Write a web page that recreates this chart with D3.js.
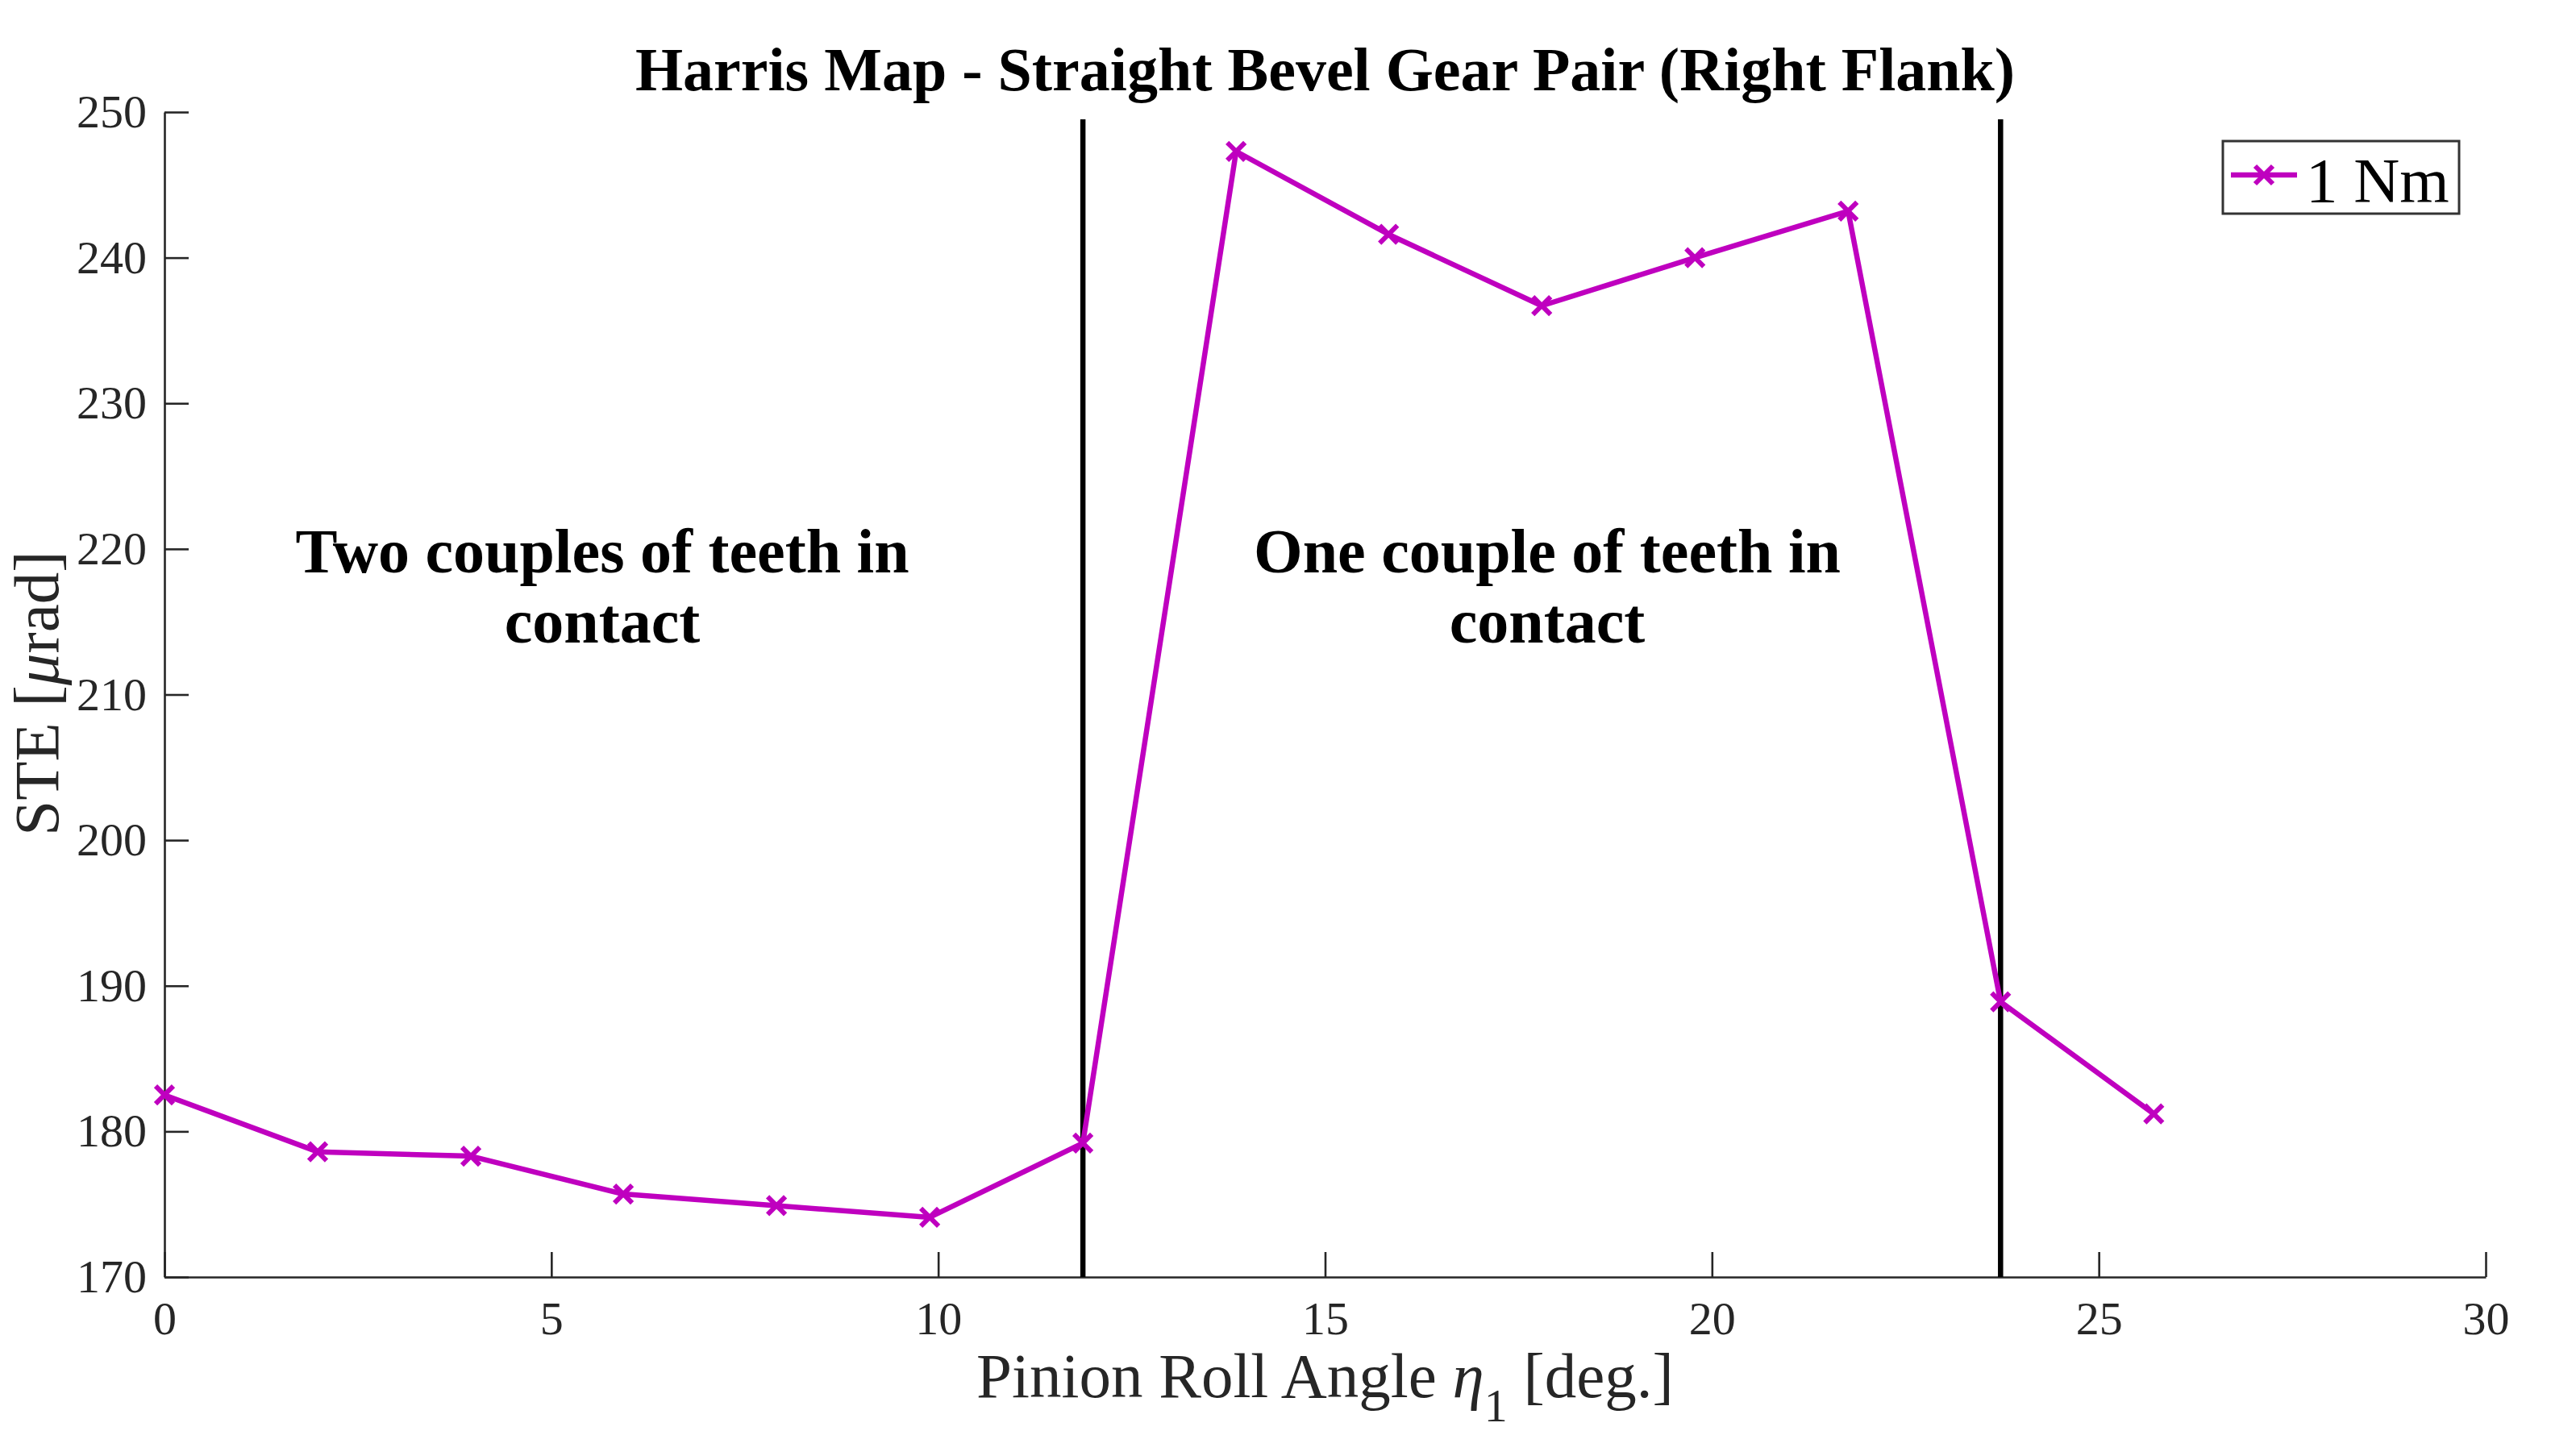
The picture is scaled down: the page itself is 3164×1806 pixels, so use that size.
<!DOCTYPE html>
<html>
<head>
<meta charset="utf-8">
<script src="https://cdn.jsdelivr.net/npm/d3@7"></script>
<style>
  body { margin: 0; background: #fff; }
  #plot { width: 3164px; height: 1806px; }
  text { font-family: "Liberation Serif", "DejaVu Serif", serif; }
</style>
</head>
<body>
<div id="plot"></div>
<script>
// data
const rollAngle = [0, 1.98, 3.96, 5.93, 7.91, 9.89, 11.87, 13.85, 15.82, 17.80, 19.78, 21.76, 23.73, 25.71];
const ste = [182.5, 178.6, 178.3, 175.7, 174.9, 174.1, 179.2, 247.3, 241.6, 236.7, 240.0, 243.2, 188.9, 181.2];
const contactLimits = [11.87, 23.73];
const xTicks = [0, 5, 10, 15, 20, 25, 30];
const yTicks = [170, 180, 190, 200, 210, 220, 230, 240, 250];
const seriesName = "1 Nm";

const magenta = "#bf00bf";
const axisColor = "#262626";

// set the dimensions and margins of the graph
const W = 3164, H = 1806;
const margin = {top: 139, right: 81, bottom: 222, left: 204},
    width = W - margin.left - margin.right,
    height = H - margin.top - margin.bottom;

const svgRoot = d3.select("#plot")
    .append("svg")
    .attr("width", W)
    .attr("height", H);

const svg = svgRoot.append("g")
    .attr("transform", "translate(" + margin.left + "," + margin.top + ")");

// scales
let x = d3.scaleLinear().domain([0, 30]).range([0, width]);
let y = d3.scaleLinear().domain([170, 250]).range([height, 0]);

// x axis, ticks pointing inward
let xAxis = svg.append("g")
    .attr("transform", "translate(0," + height + ")")
    .call(d3.axisBottom(x).tickValues(xTicks).tickSizeInner(-31).tickSizeOuter(0).tickPadding(30));

// y axis
let yAxis = svg.append("g")
    .call(d3.axisLeft(y).tickValues(yTicks).tickSizeInner(-30).tickSizeOuter(0).tickPadding(22));

[xAxis, yAxis].forEach(a => {
    a.select(".domain").attr("stroke", axisColor).attr("stroke-width", 2.6);
    a.selectAll(".tick line").attr("stroke", axisColor).attr("stroke-width", 2.6);
    a.selectAll(".tick text")
        .attr("fill", axisColor)
        .style("font-size", "58px")
        .style("font-family", "Liberation Serif");
});

// contact limit lines
svg.append("g")
    .selectAll("line")
    .data(contactLimits)
    .enter()
    .append("line")
    .attr("x1", d => x(d))
    .attr("x2", d => x(d))
    .attr("y1", y(170))
    .attr("y2", y(249.5))
    .attr("stroke", "black")
    .attr("stroke-width", 6.5);

// data line
const pts = rollAngle.map((a, i) => ({x: a, y: ste[i]}));

svg.append("path")
    .datum(pts)
    .attr("fill", "none")
    .attr("stroke", magenta)
    .attr("stroke-width", 6.5)
    .attr("stroke-linejoin", "round")
    .attr("d", d3.line()
        .x(d => x(d.x))
        .y(d => y(d.y)));

// x markers
const mk = 11;
function xMark(cx, cy) {
    return "M" + (cx - mk) + "," + (cy - mk) + "L" + (cx + mk) + "," + (cy + mk) +
           "M" + (cx - mk) + "," + (cy + mk) + "L" + (cx + mk) + "," + (cy - mk);
}
svg.append("g")
    .selectAll("path")
    .data(pts)
    .enter()
    .append("path")
    .attr("d", d => xMark(x(d.x), y(d.y)))
    .attr("stroke", magenta)
    .attr("stroke-width", 6)
    .attr("fill", "none");

// annotations
const notes = [
    {lines: ["Two couples of teeth in", "contact"], cx: 747},
    {lines: ["One couple of teeth in", "contact"], cx: 1919}
];
notes.forEach(n => {
    n.lines.forEach((t, i) => {
        svgRoot.append("text")
            .attr("x", n.cx)
            .attr("y", 710 + i * 87)
            .attr("text-anchor", "middle")
            .style("font-size", "78px")
            .style("font-weight", "bold")
            .text(t);
    });
});

// title
svgRoot.append("text")
    .attr("x", margin.left + width / 2)
    .attr("y", 112)
    .attr("text-anchor", "middle")
    .style("font-size", "76px")
    .style("font-weight", "bold")
    .text("Harris Map - Straight Bevel Gear Pair (Right Flank)");

// x label
let xl = svgRoot.append("text")
    .attr("x", margin.left + width / 2)
    .attr("y", 1733)
    .attr("text-anchor", "middle")
    .attr("fill", axisColor)
    .style("font-size", "79px");
xl.append("tspan").text("Pinion Roll Angle ");
xl.append("tspan").style("font-style", "italic").text("η");
xl.append("tspan").attr("dy", 30).style("font-size", "58px").text("1");
xl.append("tspan").attr("dy", -30).text(" [deg.]");

// y label
let yl = svgRoot.append("text")
    .attr("transform", "translate(72,860) rotate(-90)")
    .attr("text-anchor", "middle")
    .attr("fill", axisColor)
    .style("font-size", "79px");
yl.append("tspan").text("STE [");
yl.append("tspan").style("font-style", "italic").text("μ");
yl.append("tspan").text("rad]");

// legend
const leg = svgRoot.append("g").attr("transform", "translate(2757,175)");
leg.append("rect")
    .attr("width", 293)
    .attr("height", 90)
    .attr("fill", "white")
    .attr("stroke", "#333")
    .attr("stroke-width", 3);
leg.append("line")
    .attr("x1", 10).attr("x2", 92)
    .attr("y1", 42).attr("y2", 42)
    .attr("stroke", magenta)
    .attr("stroke-width", 6.5);
leg.append("path")
    .attr("d", xMark(51, 42))
    .attr("stroke", magenta)
    .attr("stroke-width", 6);
leg.append("text")
    .attr("x", 103)
    .attr("y", 75)
    .style("font-size", "79px")
    .text(seriesName);
</script>
</body>
</html>
